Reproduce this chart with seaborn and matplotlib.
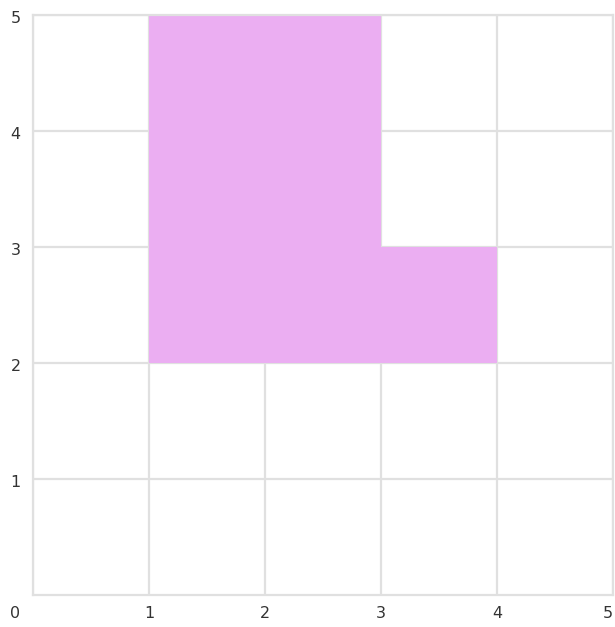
import matplotlib
matplotlib.use("Agg")
import matplotlib.pyplot as plt
import matplotlib.transforms as mtransforms
import seaborn as sns

# --- Data ---
shape_x = [1, 3, 3, 4, 4, 1]
shape_y = [5, 5, 3, 3, 2, 2]
x_ticks = [0, 1, 2, 3, 4, 5]
y_ticks = [1, 2, 3, 4, 5]
x_labels = ['0', '1', '2', '3', '4', '5']
y_labels = ['1', '2', '3', '4', '5']

sns.set_style("white")
plt.rcParams['font.family'] = ['Verdana', 'DejaVu Sans']

fig = plt.figure(figsize=(6.15, 6.27), dpi=100)
ax = fig.add_axes([33 / 615, 32 / 627, 580 / 615, 580 / 627])

ax.fill(shape_x, shape_y, color='#ebaef2', linewidth=0, zorder=2)

ax.set_xlim(0, 5)
ax.set_ylim(0, 5)
ax.set_xticks(x_ticks)
ax.set_xticklabels(x_labels)
ax.set_yticks(y_ticks)
ax.set_yticklabels(y_labels)
ax.grid(True, color='#e0e0e0', linewidth=1.6, zorder=1)
ax.set_axisbelow(True)
for s in ax.spines.values():
    s.set_color('#e0e0e0')
    s.set_linewidth(1.6)

ax.tick_params(axis='both', length=0, labelsize=11.5, labelcolor='#333333')
ax.tick_params(axis='x', pad=8)
ax.tick_params(axis='y', pad=9)

# y labels sit a little below their grid lines
for lab in ax.get_yticklabels():
    lab.set_transform(lab.get_transform() + mtransforms.ScaledTranslation(0, -2 / 100, fig.dpi_scale_trans))
# the origin label is shifted left under the y labels
xlabs = ax.get_xticklabels()
xlabs[0].set_transform(xlabs[0].get_transform() + mtransforms.ScaledTranslation(-18 / 100, 0, fig.dpi_scale_trans))
# keep the last label inside the figure
xlabs[-1].set_transform(xlabs[-1].get_transform() + mtransforms.ScaledTranslation(-5 / 100, 0, fig.dpi_scale_trans))

plt.savefig('out.png', dpi=100)
